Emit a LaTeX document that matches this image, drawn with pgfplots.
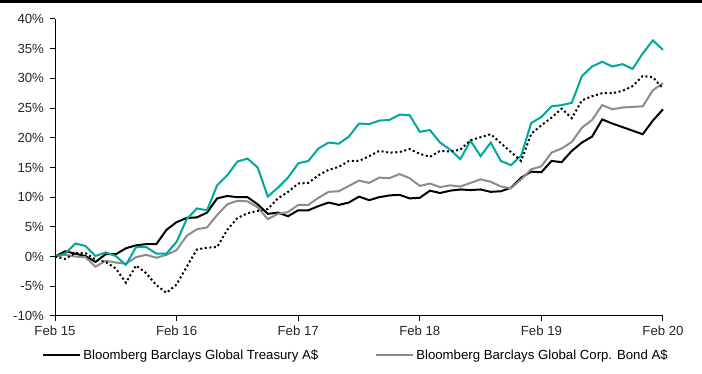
\documentclass[border=0pt]{standalone}
\usepackage{pgfplots}
\pgfplotsset{compat=1.18}
\usepackage{fontspec}
\setmainfont{Liberation Sans}
\definecolor{tealc}{RGB}{0,168,156}
\definecolor{grayc}{RGB}{140,140,140}
\pgfplotstableread{
x T C E D
0 0 0 0 0
1 0.9 0.3 0.5 -0.4
2 0.5 0.0 2.2 0.6
3 0.1 -0.1 1.8 0.6
4 -0.9 -1.7 0.1 -0.5
5 0.4 -0.7 0.7 -0.9
6 0.4 -1.0 0.1 -2.0
7 1.4 -1.2 -1.4 -4.4
8 1.9 -0.1 1.6 -1.5
9 2.1 0.3 1.6 -2.8
10 2.1 -0.2 0.5 -4.8
11 4.5 0.3 0.5 -6.1
12 5.8 1.1 2.5 -4.7
13 6.5 3.5 6.3 -1.7
14 6.6 4.6 8.1 1.2
15 7.4 4.9 7.8 1.5
16 9.8 7.0 12.0 1.6
17 10.2 8.8 13.7 4.5
18 10.0 9.4 16.0 6.5
19 10.0 9.3 16.5 7.3
20 8.8 8.3 15.0 7.7
21 7.2 6.3 10.1 8.0
22 7.4 7.2 11.6 9.8
23 6.8 7.5 13.3 10.9
24 7.8 8.7 15.7 12.3
25 7.8 8.7 16.1 12.4
26 8.5 9.9 18.2 13.7
27 9.1 10.9 19.2 14.6
28 8.7 11.0 19.0 15.1
29 9.1 11.9 20.2 16.1
30 10.1 12.8 22.4 16.1
31 9.5 12.4 22.3 16.9
32 10.0 13.3 22.9 17.8
33 10.3 13.2 23.0 17.5
34 10.4 13.9 23.9 17.6
35 9.8 13.2 23.8 18.1
36 9.9 11.9 21.0 17.3
37 11.1 12.3 21.3 16.8
38 10.7 11.7 19.2 17.8
39 11.1 12.0 18.0 17.7
40 11.3 11.8 16.4 18.0
41 11.2 12.4 19.5 19.6
42 11.3 13.0 16.9 20.1
43 10.9 12.6 19.2 20.6
44 11.0 11.8 16.1 19.1
45 11.6 11.5 15.4 17.6
46 13.3 13.0 17.0 16.1
47 14.3 14.7 22.5 20.7
48 14.2 15.2 23.5 22.1
49 16.1 17.5 25.3 23.4
50 15.9 18.2 25.5 24.9
51 17.8 19.3 25.9 23.3
52 19.2 21.7 30.4 26.3
53 20.2 23.0 32.0 27.0
54 23.1 25.5 32.8 27.5
55 22.4 24.8 32.0 27.5
56 21.8 25.1 32.4 27.9
57 21.2 25.2 31.6 28.7
58 20.6 25.3 34.2 30.4
59 22.9 28.0 36.4 30.2
60 24.8 29.2 34.8 28.3
}\datatable
\begin{document}
\begin{tikzpicture}
\useasboundingbox (0pt,0pt) rectangle (702pt,374pt);
\draw[line width=3pt] (0pt,372.5pt) -- (702pt,372.5pt);
\begin{axis}[
  at={(55pt,58pt)}, anchor=south west,
  scale only axis, width=608pt, height=297pt,
  xmin=0, xmax=60, ymin=-10, ymax=40,
  axis lines=left, axis line style={-, line width=1pt},
  tick align=outside, major tick length=5pt,
  tick style={black, line width=1pt},
  xtick={0,12,24,36,48,60},
  xticklabels={Feb 15,Feb 16,Feb 17,Feb 18,Feb 19,Feb 20},
  ytick={-10,-5,0,5,10,15,20,25,30,35,40},
  yticklabels={-10\%,-5\%,0\%,5\%,10\%,15\%,20\%,25\%,30\%,35\%,40\%},
  ticklabel style={font=\fontsize{13.2}{15}\selectfont, text=black!85},
  yticklabel style={xshift=-2.5pt},
  xticklabel style={yshift=-1pt},
  legend style={at={(0.4951,-0.1313)}, anchor=center, draw=none,
    legend columns=2, font=\fontsize{13.2}{15}\selectfont,
    /tikz/every even column/.append style={column sep=55pt}},
  legend image code/.code={\draw[#1] (0pt,0pt) -- (37pt,0pt);},
  clip=false,
]
\addplot[black, line width=2pt] table[x=x,y=T]{\datatable};
\addlegendentry{Bloomberg Barclays Global Treasury A\$}
\addplot[grayc, line width=2pt] table[x=x,y=C]{\datatable};
\addlegendentry{Bloomberg Barclays Global Corp. Bond A\$}
\addplot[tealc, line width=2pt, forget plot] table[x=x,y=E]{\datatable};
\addplot[black, line width=2pt, dash pattern=on 2pt off 2.6pt, forget plot] table[x=x,y=D]{\datatable};
\end{axis}
\end{tikzpicture}
\end{document}
